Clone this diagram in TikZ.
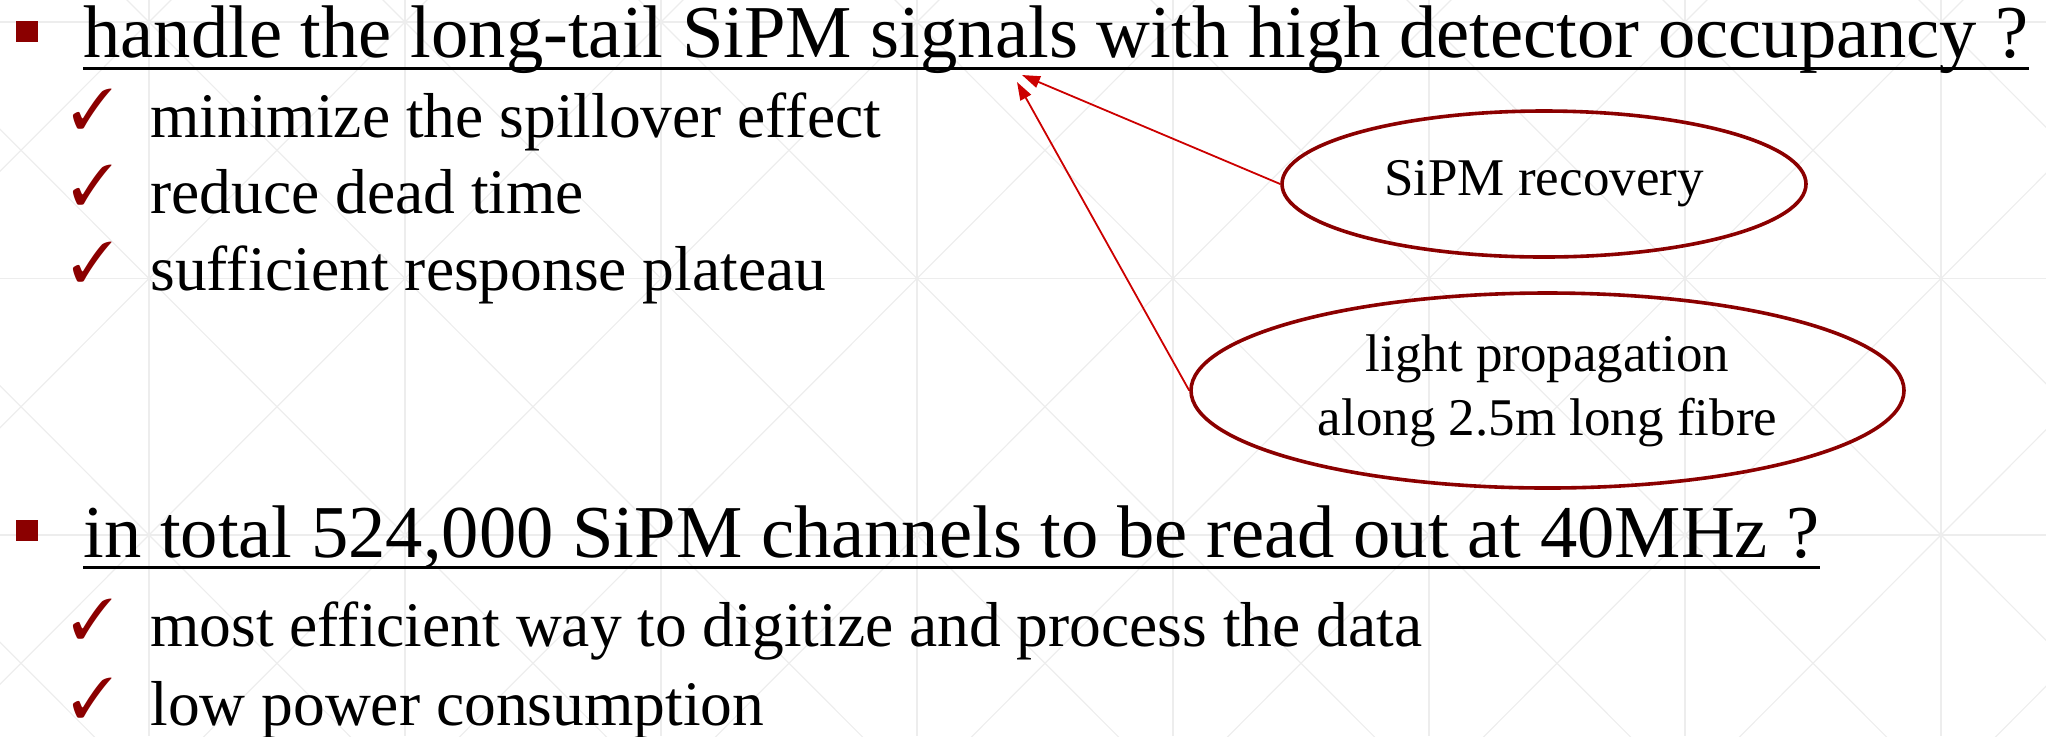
\documentclass[tikz,border=0pt]{standalone}
\usepackage{fontspec}
\setmainfont{Liberation Serif}
\usepackage{pifont}
\usetikzlibrary{shapes.geometric,arrows.meta,calc}
\definecolor{darkred}{HTML}{8B0000}
\definecolor{arrowred}{HTML}{CC0000}
\definecolor{patgray}{HTML}{EDEDED}
\tikzset{
  head/.style={anchor=base west,inner sep=0pt,font=\fontsize{37.3pt}{44pt}\selectfont},
  item/.style={anchor=base west,inner sep=0pt,font=\fontsize{31.75pt}{38pt}\selectfont},
  tick/.style={anchor=base west,inner sep=0pt,text=darkred,font=\fontsize{28pt}{30pt}\selectfont},
  sq/.style={rectangle,fill=darkred,minimum width=11pt,minimum height=10.5pt,inner sep=0pt},
  bubble/.style={ellipse,draw=darkred,line width=1.8pt,inner sep=0pt,align=center,
    font=\fontsize{26.5pt}{32pt}\selectfont},
  ptr/.style={-{Triangle[length=9pt,width=6pt]},arrowred,line width=0.9pt},
  uline/.style={line width=1.5pt},
  bgline/.style={patgray,line width=0.6pt},
}

\begin{document}
\begin{tikzpicture}[x=0.5pt,y=-0.5pt]
\useasboundingbox (0,0) rectangle (2046,736);

% slide background pattern
\begin{scope}
  \clip (0,0) rectangle (2046,736);
  \foreach \i in {-1,...,7} {
    \draw[bgline] (149+256*\i,0) -- (149+256*\i,736);
    \foreach \j in {-1,...,2} {
      \draw[bgline] (149+256*\i,22+256.5*\j) -- ++(256,256.5);
      \draw[bgline] (149+256*\i,278.5+256.5*\j) -- ++(256,-256.5);
    }
  }
  \foreach \j in {0,1,2}
    \draw[bgline] (0,22+256.5*\j) -- (2046,22+256.5*\j);
\end{scope}

% first question
\node[sq] (b1) at (27,31.5) {};
\node[head] (h1) at (83,57) {handle the long-tail SiPM signals with high detector occupancy ?};
\draw[uline] ($(h1.base west)+(0,11.5)$) -- ($(h1.base east)+(0,11.5)$);

\node[tick] (c1) at (71,128) {\ding{51}};
\node[item] (i1) at (150,137) {minimize the spillover effect};
\node[tick] (c2) at (71,204) {\ding{51}};
\node[item] (i2) at (150,213) {reduce dead time};
\node[tick] (c3) at (71,281) {\ding{51}};
\node[item] (i3) at (150,290) {sufficient response plateau};

% second question
\node[sq] (b2) at (27,530) {};
\node[head] (h2) at (83,557) {in total 524,000 SiPM channels to be read out at 40MHz ?};
\draw[uline] ($(h2.base west)+(0,10.5)$) -- ($(h2.base east)+(0,10.5)$);

\node[tick] (c4) at (71,638) {\ding{51}};
\node[item] (i4) at (150,646) {most efficient way to digitize and process the data};
\node[tick] (c5) at (71,717) {\ding{51}};
\node[item] (i5) at (150,725) {low power consumption};

% causes
\node[bubble,minimum width=262pt,minimum height=73pt] (rec) at (1544,184) {SiPM recovery};
\node[bubble,minimum width=356.5pt,minimum height=97.5pt] (prop) at (1547.5,390.5)
  {light propagation\\along 2.5m long fibre};

\coordinate (t1) at (1022,75);
\coordinate (t2) at (1017,82);
\draw[ptr] (rec.west) -- (t1);
\draw[ptr] (prop.west) -- (t2);
\end{tikzpicture}
\end{document}
